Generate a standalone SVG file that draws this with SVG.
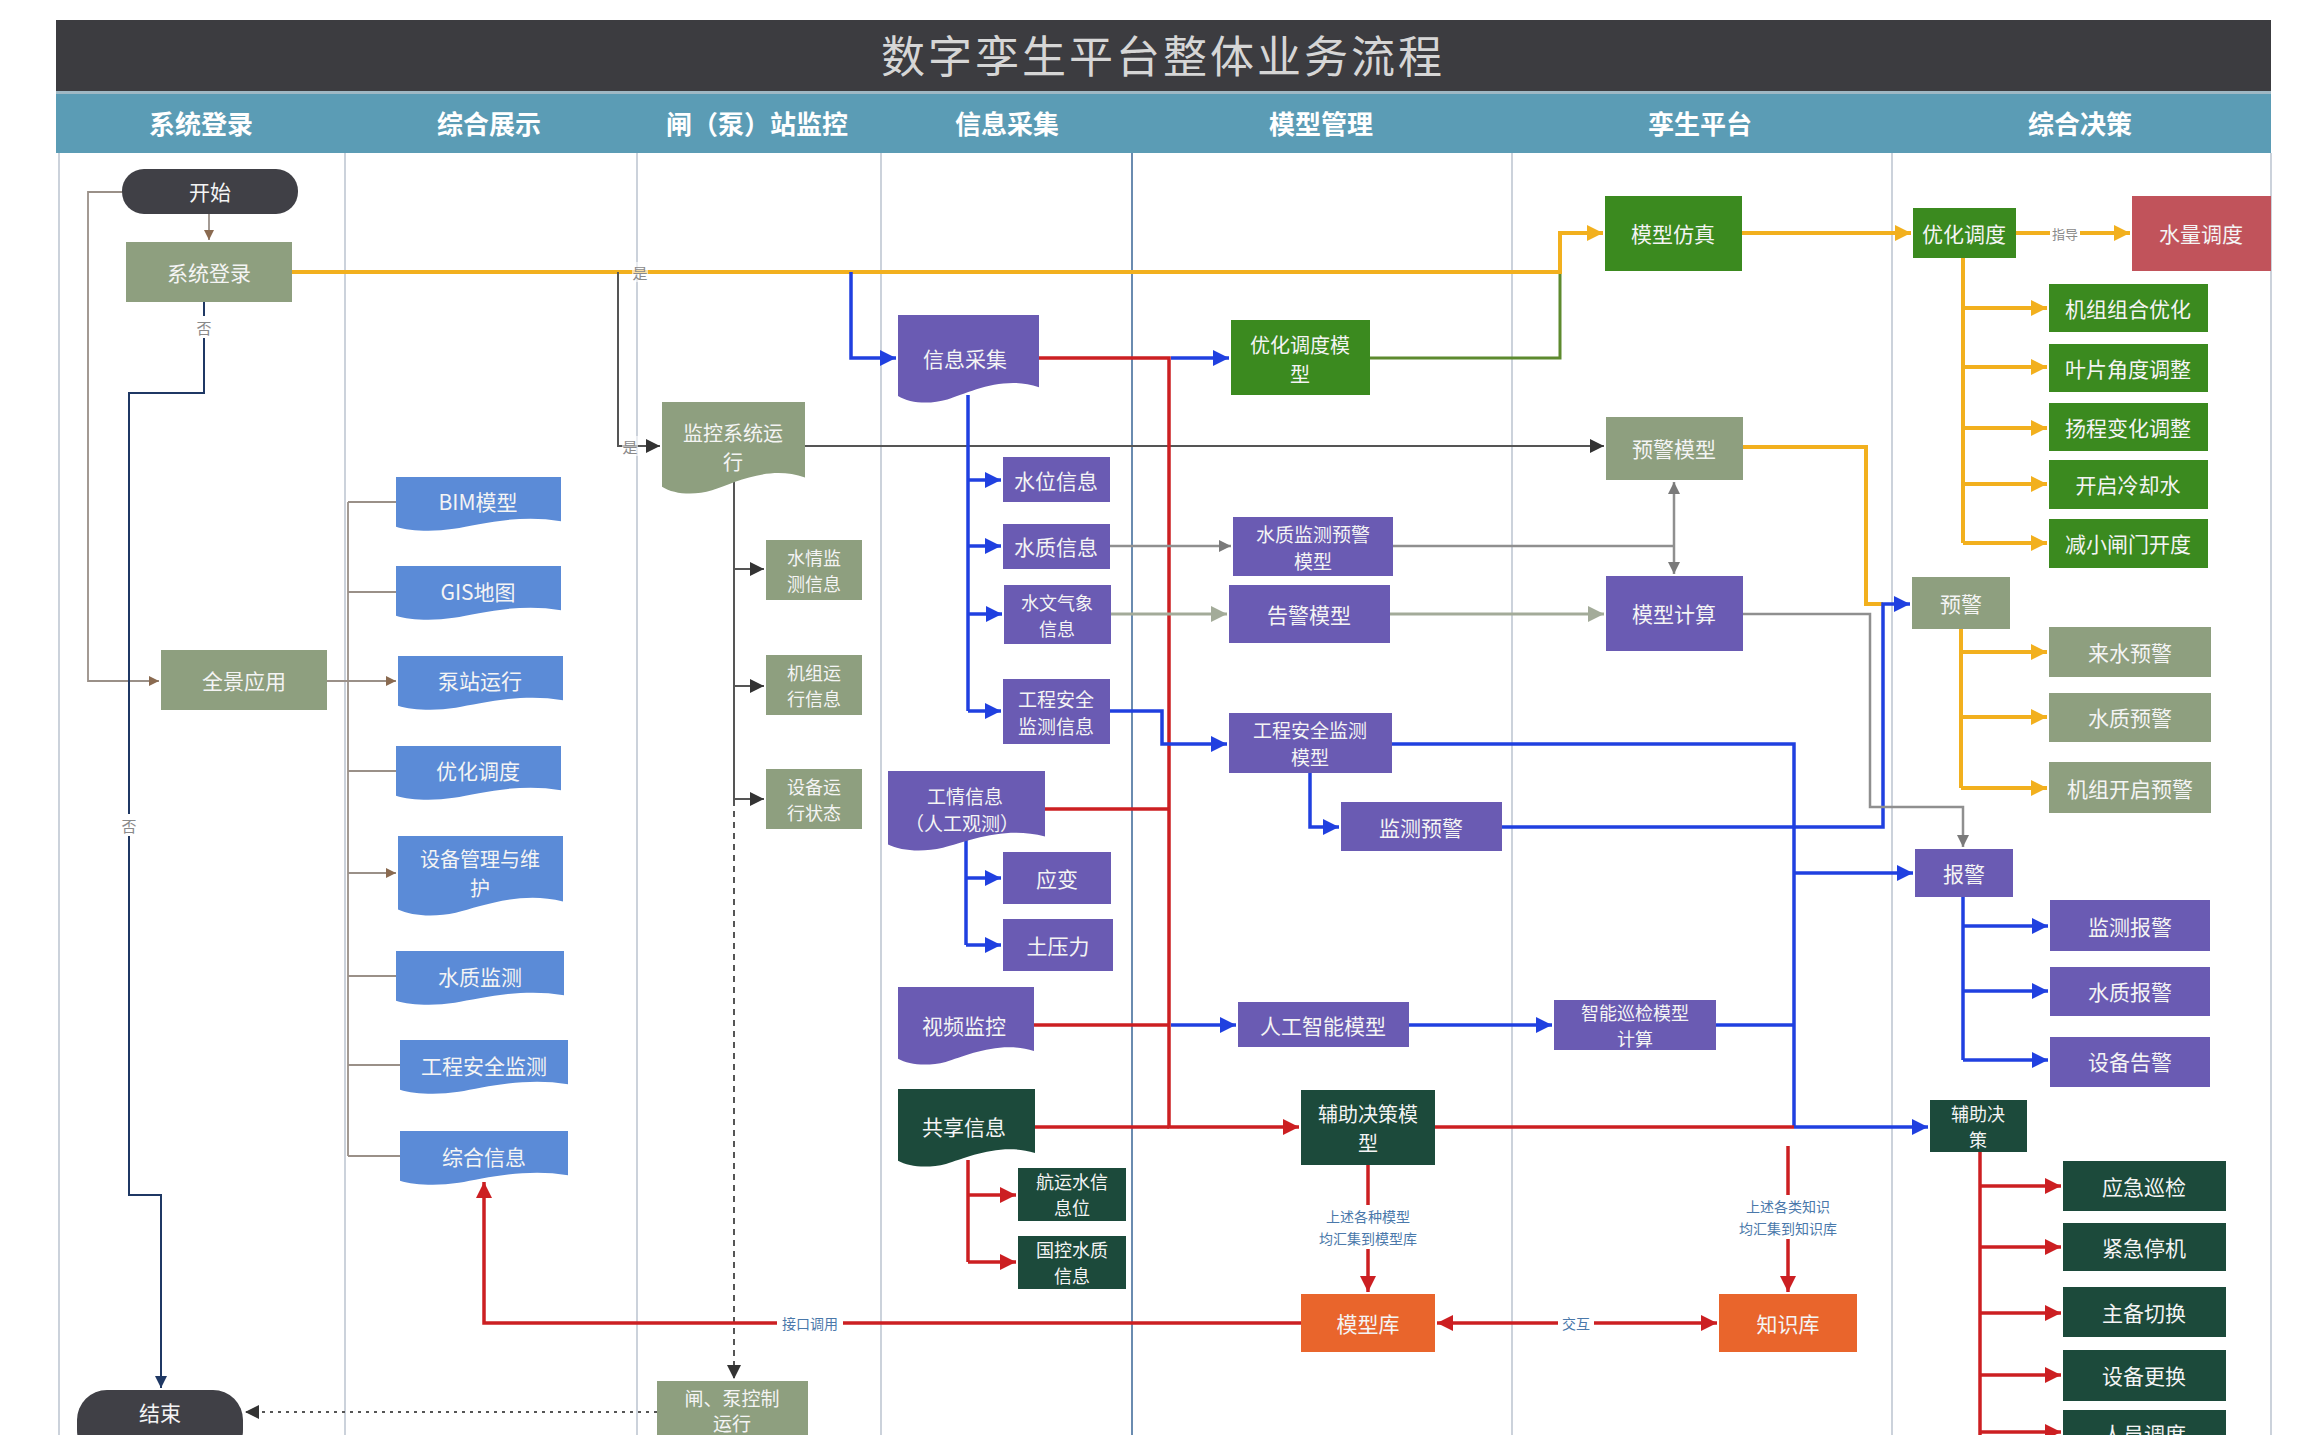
<svg xmlns="http://www.w3.org/2000/svg" xmlns:xlink="http://www.w3.org/1999/xlink" width="2302" height="1435" viewBox="0 0 2302 1435">
<style>
.t{font-family:"Noto Sans CJK SC","Noto Sans",sans-serif;font-size:21px;fill:#f4f4f4;text-anchor:middle;dominant-baseline:central}
.s20{font-size:20px}.s19{font-size:19px}.s18{font-size:18px}
.h{font-family:"Noto Sans CJK SC","Noto Sans",sans-serif;font-size:26px;font-weight:bold;fill:#ffffff;text-anchor:middle;dominant-baseline:central}
.title{font-family:"Noto Sans CJK SC","Noto Sans",sans-serif;font-size:44px;fill:#d6d6d6;text-anchor:middle;dominant-baseline:central;letter-spacing:3px}
.lb{font-family:"Noto Sans CJK SC","Noto Sans",sans-serif;font-size:14px;fill:#4a78aa;text-anchor:middle;dominant-baseline:central}
.lg{font-family:"Noto Sans CJK SC","Noto Sans",sans-serif;font-size:15px;fill:#8a8a8a;text-anchor:middle;dominant-baseline:central}
.gg{fill:#8e9f7f}.pu{fill:#6a5bb3}.bl{fill:#5b8bd7}.gr{fill:#3b8a1f}.dg{fill:#1c4a3b}.or{fill:#e9652c}.rd{fill:#c1535b}.dk{fill:#404046}
.lane{stroke:#aab5c3;stroke-width:1.2;fill:none}
.cor{stroke:#f2b01e;stroke-width:4;fill:none}
.cbl{stroke:#2040e0;stroke-width:3.5;fill:none}
.crd{stroke:#cc1f22;stroke-width:3.5;fill:none}
.cgy{stroke:#8f8f8f;stroke-width:2.5;fill:none}
.cgg{stroke:#a3ab99;stroke-width:3;fill:none}
.cbk{stroke:#555555;stroke-width:2;fill:none}
.cnv{stroke:#1f3864;stroke-width:2;fill:none}
.cth{stroke:#9a9088;stroke-width:1.8;fill:none}
.cgn{stroke:#5d8a2e;stroke-width:3;fill:none}
.lbg{fill:#ffffff}
</style>
<defs>
<symbol id="doc" viewBox="0 0 100 100" preserveAspectRatio="none"><path d="M0,0 H100 V82 C75,68 50,88 35,96 C22,102 8,100 0,92 Z"/></symbol>
<marker id="aor" markerUnits="userSpaceOnUse" markerWidth="16" markerHeight="16" viewBox="0 0 10 10" refX="10" refY="5" orient="auto"><path d="M0,0 L10,5 L0,10 z" fill="#f2b01e"/></marker>
<marker id="abl" markerUnits="userSpaceOnUse" markerWidth="16" markerHeight="16" viewBox="0 0 10 10" refX="10" refY="5" orient="auto"><path d="M0,0 L10,5 L0,10 z" fill="#2040e0"/></marker>
<marker id="ard" markerUnits="userSpaceOnUse" markerWidth="16" markerHeight="16" viewBox="0 0 10 10" refX="10" refY="5" orient="auto-start-reverse"><path d="M0,0 L10,5 L0,10 z" fill="#cc1f22"/></marker>
<marker id="agy" markerUnits="userSpaceOnUse" markerWidth="12" markerHeight="12" viewBox="0 0 10 10" refX="10" refY="5" orient="auto-start-reverse"><path d="M0,0 L10,5 L0,10 z" fill="#7a7a7a"/></marker>
<marker id="agg" markerUnits="userSpaceOnUse" markerWidth="16" markerHeight="16" viewBox="0 0 10 10" refX="10" refY="5" orient="auto"><path d="M0,0 L10,5 L0,10 z" fill="#a3ab99"/></marker>
<marker id="abk" markerUnits="userSpaceOnUse" markerWidth="14" markerHeight="14" viewBox="0 0 10 10" refX="10" refY="5" orient="auto"><path d="M0,0 L10,5 L0,10 z" fill="#333333"/></marker>
<marker id="anv" markerUnits="userSpaceOnUse" markerWidth="12" markerHeight="12" viewBox="0 0 10 10" refX="10" refY="5" orient="auto"><path d="M0,0 L10,5 L0,10 z" fill="#1f3864"/></marker>
<marker id="ath" markerUnits="userSpaceOnUse" markerWidth="10" markerHeight="10" viewBox="0 0 10 10" refX="10" refY="5" orient="auto"><path d="M0,0 L10,5 L0,10 z" fill="#8a6a50"/></marker>
</defs>
<rect x="0" y="0" width="2302" height="1435" fill="#ffffff"/>
<g id="frame">
<rect x="56" y="20" width="2215" height="71" fill="#3c3c40"/>
<text class="title" x="1163" y="54">数字孪生平台整体业务流程</text>
<rect x="56" y="91" width="2215" height="3" fill="#9fb8c4"/>
<rect x="56" y="94" width="2215" height="59" fill="#5b9cb5"/>
<text class="h" x="201" y="122">系统登录</text>
<text class="h" x="489" y="122">综合展示</text>
<text class="h" x="757" y="122">闸（泵）站监控</text>
<text class="h" x="1007" y="122">信息采集</text>
<text class="h" x="1321" y="122">模型管理</text>
<text class="h" x="1700" y="122">孪生平台</text>
<text class="h" x="2080" y="122">综合决策</text>
<path class="lane" d="M59,153V1435M345,153V1435M637,153V1435M881,153V1435M1512,153V1435M1892,153V1435M2271,153V1435"/>
<path d="M1132,153V1435" stroke="#5a7fa8" stroke-width="1.8" fill="none"/>
</g>
<g id="connectors">
<path class="cth" d="M209,214V240" marker-end="url(#ath)"/>
<path class="cth" d="M122,192H88V681H159" marker-end="url(#ath)"/>
<path class="cnv" d="M204,302V393H129V1195H161V1388" marker-end="url(#anv)"/>
<path class="cth" d="M327,681H396" marker-end="url(#ath)"/>
<path class="cth" d="M348,502V1156M348,502H396M348,592H396M348,771H396M348,976H396M348,1065H400M348,1156H400"/>
<path class="cth" d="M348,873H396" marker-end="url(#ath)"/>
<path class="cor" d="M292,272H1560V233H1603" marker-end="url(#aor)"/>
<path class="cbk" d="M618,272V446H660" marker-end="url(#abk)"/>
<path class="cbl" d="M851,272V358H896" marker-end="url(#abl)"/>
<path class="cgn" d="M1370,358H1560V274"/>
<path class="cor" d="M1742,233H1911" marker-end="url(#aor)"/>
<path class="cor" d="M2016,233H2130" marker-end="url(#aor)"/>
<path class="cor" d="M1963,258V543"/>
<path class="cor" d="M1963,308H2047" marker-end="url(#aor)"/>
<path class="cor" d="M1963,367H2047" marker-end="url(#aor)"/>
<path class="cor" d="M1963,428H2047" marker-end="url(#aor)"/>
<path class="cor" d="M1963,484H2047" marker-end="url(#aor)"/>
<path class="cor" d="M1963,543H2047" marker-end="url(#aor)"/>
<path class="cbk" d="M805,446H1604" marker-end="url(#abk)"/>
<path class="cbk" d="M734,478V800"/>
<path class="cbk" d="M734,569H764" marker-end="url(#abk)"/>
<path class="cbk" d="M734,686H764" marker-end="url(#abk)"/>
<path class="cbk" d="M734,799H764" marker-end="url(#abk)"/>
<path class="cbk" d="M734,800V1379" stroke-dasharray="6,5" stroke-width="1.5" marker-end="url(#abk)"/>
<path class="cbk" d="M657,1412H245" stroke-dasharray="3,5" stroke-width="2.5" stroke="#8a8a8a" marker-end="url(#abk)"/>
<path class="crd" d="M1039,358H1169V1127H1299" marker-end="url(#ard)"/>
<path class="cbl" d="M1171,358H1229" marker-end="url(#abl)"/>
<path class="cbl" d="M968,395V711"/>
<path class="cbl" d="M968,480H1001" marker-end="url(#abl)"/>
<path class="cbl" d="M968,546H1001" marker-end="url(#abl)"/>
<path class="cbl" d="M968,614H1002" marker-end="url(#abl)"/>
<path class="cbl" d="M968,711H1001" marker-end="url(#abl)"/>
<path class="cgy" d="M1110,546H1231" marker-end="url(#agy)"/>
<path class="cgy" d="M1393,546H1674"/>
<path class="cgg" d="M1111,614H1227" marker-end="url(#agg)"/>
<path class="cgg" d="M1390,614H1604" marker-end="url(#agg)"/>
<path class="cgy" d="M1674,482V574" stroke-width="2" marker-start="url(#agy)" marker-end="url(#agy)"/>
<path class="cbl" d="M1110,711H1162V744H1227" marker-end="url(#abl)"/>
<path class="crd" d="M1045,809H1169"/>
<path class="cbl" d="M966,836V945"/>
<path class="cbl" d="M966,878H1001" marker-end="url(#abl)"/>
<path class="cbl" d="M966,945H1001" marker-end="url(#abl)"/>
<path class="crd" d="M1034,1025H1169"/>
<path class="cbl" d="M1171,1025H1236" marker-end="url(#abl)"/>
<path class="crd" d="M1035,1127H1169"/>
<path class="crd" d="M968,1160V1262"/>
<path class="crd" d="M968,1195H1016" marker-end="url(#ard)"/>
<path class="crd" d="M968,1262H1016" marker-end="url(#ard)"/>
<path class="cbl" d="M1409,1025H1552" marker-end="url(#abl)"/>
<path class="cbl" d="M1716,1025H1794"/>
<path class="cbl" d="M1392,744H1794V1127"/>
<path class="cbl" d="M1794,873H1913" marker-end="url(#abl)"/>
<path class="cbl" d="M1310,773V827H1339" marker-end="url(#abl)"/>
<path class="cor" d="M1743,447H1866V604H1883"/>
<path class="cbl" d="M1502,827H1883V604H1910" marker-end="url(#abl)"/>
<path class="cgy" d="M1743,614H1870V807H1963V847" marker-end="url(#agy)"/>
<path class="cor" d="M1961,629V788"/>
<path class="cor" d="M1961,652H2047" marker-end="url(#aor)"/>
<path class="cor" d="M1961,717H2047" marker-end="url(#aor)"/>
<path class="cor" d="M1961,788H2047" marker-end="url(#aor)"/>
<path class="cbl" d="M1963,897V1060"/>
<path class="cbl" d="M1963,926H2048" marker-end="url(#abl)"/>
<path class="cbl" d="M1963,991H2048" marker-end="url(#abl)"/>
<path class="cbl" d="M1963,1060H2048" marker-end="url(#abl)"/>
<path class="crd" d="M1435,1127H1794"/>
<path class="cbl" d="M1794,1127H1928" marker-end="url(#abl)"/>
<path class="crd" d="M1980,1152V1435"/>
<path class="crd" d="M1980,1186H2061" marker-end="url(#ard)"/>
<path class="crd" d="M1980,1247H2061" marker-end="url(#ard)"/>
<path class="crd" d="M1980,1313H2061" marker-end="url(#ard)"/>
<path class="crd" d="M1980,1375H2061" marker-end="url(#ard)"/>
<path class="crd" d="M1980,1432H2061" marker-end="url(#ard)"/>
<path class="crd" d="M1368,1165V1292" marker-end="url(#ard)"/>
<path class="crd" d="M1788,1146V1292" marker-end="url(#ard)"/>
<path class="crd" d="M1437,1323H1717" marker-start="url(#ard)" marker-end="url(#ard)"/>
<path class="crd" d="M1301,1323H484V1182" marker-end="url(#ard)"/>
<rect class="lbg" x="196" y="316" width="16" height="22"/>
<text class="lg" x="204" y="327">否</text>
<rect class="lbg" x="121" y="814" width="16" height="22"/>
<text class="lg" x="129" y="825">否</text>
<rect class="lbg" x="632" y="262" width="16" height="20" opacity="0.6"/>
<text class="lg" x="640" y="272">是</text>
<rect class="lbg" x="622" y="436" width="16" height="20" opacity="0.6"/>
<text class="lg" x="630" y="446">是</text>
<rect class="lbg" x="2050" y="223" width="30" height="20"/>
<text class="lg" x="2065" y="233" style="font-size:13px">指导</text>
<rect class="lbg" x="1558" y="1313" width="36" height="20"/>
<text class="lb" x="1576" y="1323">交互</text>
<rect class="lbg" x="777" y="1313" width="66" height="20"/>
<text class="lb" x="810" y="1323">接口调用</text>
<rect class="lbg" x="1310" y="1205" width="116" height="44"/>
<text class="lb" x="1368" y="1216">上述各种模型</text>
<text class="lb" x="1368" y="1238">均汇集到模型库</text>
<rect class="lbg" x="1730" y="1195" width="116" height="44"/>
<text class="lb" x="1788" y="1206">上述各类知识</text>
<text class="lb" x="1788" y="1228">均汇集到知识库</text>
</g>
<g id="n-start"><rect class="dk" x="122" y="169" width="176" height="45" rx="22"/><text class="t" x="210" y="191">开始</text></g>
<g id="n-login"><rect class="gg" x="126" y="242" width="166" height="60"/><text class="t" x="209" y="272">系统登录</text></g>
<g id="n-quanjing"><rect class="gg" x="161" y="650" width="166" height="60"/><text class="t" x="244" y="680">全景应用</text></g>
<g id="n-end"><rect class="dk" x="77" y="1390" width="166" height="70" rx="30"/><text class="t" x="160" y="1412">结束</text></g>
<g id="n-bim"><use xlink:href="#doc" class="bl" x="396" y="477" width="165" height="54"/><text class="t" x="478" y="501">BIM模型</text></g>
<g id="n-gis"><use xlink:href="#doc" class="bl" x="396" y="566" width="165" height="54"/><text class="t" x="478" y="591">GIS地图</text></g>
<g id="n-bengzhan"><use xlink:href="#doc" class="bl" x="398" y="656" width="165" height="54"/><text class="t" x="480" y="680">泵站运行</text></g>
<g id="n-youhua1"><use xlink:href="#doc" class="bl" x="396" y="746" width="165" height="54"/><text class="t" x="478" y="770">优化调度</text></g>
<g id="n-shebeiguanli"><use xlink:href="#doc" class="bl" x="398" y="836" width="165" height="80"/><text class="t s20" x="480" y="858">设备管理与维</text><text class="t s20" x="480" y="887">护</text></g>
<g id="n-shuizhi1"><use xlink:href="#doc" class="bl" x="396" y="951" width="168" height="54"/><text class="t" x="480" y="976">水质监测</text></g>
<g id="n-gongcheng1"><use xlink:href="#doc" class="bl" x="400" y="1040" width="168" height="54"/><text class="t" x="484" y="1065">工程安全监测</text></g>
<g id="n-zonghe"><use xlink:href="#doc" class="bl" x="400" y="1131" width="168" height="54"/><text class="t" x="484" y="1156">综合信息</text></g>
<g id="n-jiankong"><use xlink:href="#doc" class="gg" x="662" y="402" width="143" height="92"/><text class="t s20" x="733" y="432">监控系统运</text><text class="t s20" x="733" y="461">行</text></g>
<g id="n-shuiqing"><rect class="gg" x="766" y="540" width="96" height="60"/><text class="t s18" x="814" y="557">水情监</text><text class="t s18" x="814" y="583">测信息</text></g>
<g id="n-jizuyunxing"><rect class="gg" x="766" y="655" width="96" height="60"/><text class="t s18" x="814" y="672">机组运</text><text class="t s18" x="814" y="698">行信息</text></g>
<g id="n-shebeiyunxing"><rect class="gg" x="766" y="769" width="96" height="60"/><text class="t s18" x="814" y="786">设备运</text><text class="t s18" x="814" y="812">行状态</text></g>
<g id="n-zhabeng"><rect class="gg" x="657" y="1381" width="151" height="70"/><text class="t s19" x="732" y="1397">闸、泵控制</text><text class="t s19" x="732" y="1422">运行</text></g>
<g id="n-xinxicaiji"><use xlink:href="#doc" class="pu" x="898" y="315" width="141" height="88"/><text class="t" x="965" y="358">信息采集</text></g>
<g id="n-shuiwei"><rect class="pu" x="1003" y="457" width="107" height="45"/><text class="t" x="1056" y="480">水位信息</text></g>
<g id="n-shuizhixinxi"><rect class="pu" x="1003" y="524" width="107" height="45"/><text class="t" x="1056" y="546">水质信息</text></g>
<g id="n-shuiwen"><rect class="pu" x="1004" y="585" width="107" height="59"/><text class="t s18" x="1057" y="602">水文气象</text><text class="t s18" x="1057" y="628">信息</text></g>
<g id="n-gongchengxinxi"><rect class="pu" x="1003" y="679" width="107" height="65"/><text class="t s19" x="1056" y="698">工程安全</text><text class="t s19" x="1056" y="725">监测信息</text></g>
<g id="n-gongqing"><use xlink:href="#doc" class="pu" x="888" y="771" width="157" height="80"/><text class="t s19" x="965" y="795">工情信息</text><text class="t s19" x="962" y="822">（人工观测）</text></g>
<g id="n-yingbian"><rect class="pu" x="1003" y="852" width="108" height="52"/><text class="t" x="1057" y="878">应变</text></g>
<g id="n-tuyali"><rect class="pu" x="1003" y="919" width="110" height="52"/><text class="t" x="1058" y="945">土压力</text></g>
<g id="n-shipin"><use xlink:href="#doc" class="pu" x="898" y="987" width="136" height="78"/><text class="t" x="964" y="1025">视频监控</text></g>
<g id="n-gongxiang"><use xlink:href="#doc" class="dg" x="898" y="1089" width="137" height="78"/><text class="t" x="964" y="1126">共享信息</text></g>
<g id="n-hangyun"><rect class="dg" x="1018" y="1168" width="108" height="53"/><text class="t s18" x="1072" y="1181">航运水信</text><text class="t s18" x="1072" y="1207">息位</text></g>
<g id="n-guokong"><rect class="dg" x="1018" y="1236" width="108" height="53"/><text class="t s18" x="1072" y="1249">国控水质</text><text class="t s18" x="1072" y="1275">信息</text></g>
<g id="n-youhuamoxing"><rect class="gr" x="1231" y="320" width="139" height="75"/><text class="t s20" x="1300" y="344">优化调度模</text><text class="t s20" x="1300" y="373">型</text></g>
<g id="n-shuizhiyujing"><rect class="pu" x="1233" y="517" width="160" height="59"/><text class="t s19" x="1313" y="533">水质监测预警</text><text class="t s19" x="1313" y="560">模型</text></g>
<g id="n-gaojing"><rect class="pu" x="1229" y="585" width="161" height="58"/><text class="t" x="1309" y="614">告警模型</text></g>
<g id="n-gongchengmoxing"><rect class="pu" x="1229" y="713" width="163" height="60"/><text class="t s19" x="1310" y="729">工程安全监测</text><text class="t s19" x="1310" y="756">模型</text></g>
<g id="n-jianceyujing"><rect class="pu" x="1341" y="802" width="161" height="49"/><text class="t" x="1421" y="827">监测预警</text></g>
<g id="n-rengong"><rect class="pu" x="1238" y="1002" width="171" height="45"/><text class="t" x="1323" y="1025">人工智能模型</text></g>
<g id="n-fuzhumoxing"><rect class="dg" x="1301" y="1090" width="134" height="75"/><text class="t s20" x="1368" y="1113">辅助决策模</text><text class="t s20" x="1368" y="1142">型</text></g>
<g id="n-moxingku"><rect class="or" x="1301" y="1294" width="134" height="58"/><text class="t" x="1368" y="1323">模型库</text></g>
<g id="n-fangzhen"><rect class="gr" x="1605" y="196" width="137" height="75"/><text class="t" x="1673" y="233">模型仿真</text></g>
<g id="n-yujingmoxing"><rect class="gg" x="1606" y="417" width="137" height="63"/><text class="t" x="1674" y="448">预警模型</text></g>
<g id="n-jisuan"><rect class="pu" x="1606" y="576" width="137" height="75"/><text class="t" x="1674" y="613">模型计算</text></g>
<g id="n-xunjian"><rect class="pu" x="1554" y="1000" width="162" height="50"/><text class="t s18" x="1635" y="1012">智能巡检模型</text><text class="t s18" x="1635" y="1038">计算</text></g>
<g id="n-zhishiku"><rect class="or" x="1719" y="1294" width="138" height="58"/><text class="t" x="1788" y="1323">知识库</text></g>
<g id="n-youhua2"><rect class="gr" x="1913" y="208" width="103" height="50"/><text class="t" x="1964" y="233">优化调度</text></g>
<g id="n-shuiliang"><rect class="rd" x="2132" y="196" width="139" height="75"/><text class="t" x="2201" y="233">水量调度</text></g>
<g id="n-jizuzuhe"><rect class="gr" x="2049" y="284" width="159" height="48"/><text class="t" x="2128" y="308">机组组合优化</text></g>
<g id="n-yepian"><rect class="gr" x="2049" y="344" width="159" height="48"/><text class="t" x="2128" y="368">叶片角度调整</text></g>
<g id="n-yangcheng"><rect class="gr" x="2049" y="403" width="159" height="48"/><text class="t" x="2128" y="427">扬程变化调整</text></g>
<g id="n-lengque"><rect class="gr" x="2049" y="460" width="159" height="49"/><text class="t" x="2128" y="484">开启冷却水</text></g>
<g id="n-zhamen"><rect class="gr" x="2049" y="519" width="159" height="49"/><text class="t" x="2128" y="543">减小闸门开度</text></g>
<g id="n-yujing"><rect class="gg" x="1912" y="577" width="98" height="52"/><text class="t" x="1961" y="603">预警</text></g>
<g id="n-laishui"><rect class="gg" x="2049" y="627" width="162" height="50"/><text class="t" x="2130" y="652">来水预警</text></g>
<g id="n-shuizhiyj"><rect class="gg" x="2049" y="693" width="162" height="49"/><text class="t" x="2130" y="717">水质预警</text></g>
<g id="n-jizukaiqi"><rect class="gg" x="2049" y="762" width="162" height="51"/><text class="t" x="2130" y="788">机组开启预警</text></g>
<g id="n-baojing"><rect class="pu" x="1915" y="849" width="98" height="48"/><text class="t" x="1964" y="873">报警</text></g>
<g id="n-jiancebaojing"><rect class="pu" x="2050" y="900" width="160" height="51"/><text class="t" x="2130" y="926">监测报警</text></g>
<g id="n-shuizhibaojing"><rect class="pu" x="2050" y="967" width="160" height="49"/><text class="t" x="2130" y="991">水质报警</text></g>
<g id="n-shebeigaojing"><rect class="pu" x="2050" y="1037" width="160" height="50"/><text class="t" x="2130" y="1061">设备告警</text></g>
<g id="n-fuzhu"><rect class="dg" x="1930" y="1100" width="97" height="52"/><text class="t s18" x="1978" y="1113">辅助决</text><text class="t s18" x="1978" y="1139">策</text></g>
<g id="n-yingji"><rect class="dg" x="2063" y="1161" width="163" height="50"/><text class="t" x="2144" y="1186">应急巡检</text></g>
<g id="n-jinji"><rect class="dg" x="2063" y="1223" width="163" height="48"/><text class="t" x="2144" y="1247">紧急停机</text></g>
<g id="n-zhubei"><rect class="dg" x="2063" y="1287" width="163" height="50"/><text class="t" x="2144" y="1312">主备切换</text></g>
<g id="n-genghuan"><rect class="dg" x="2063" y="1350" width="163" height="51"/><text class="t" x="2144" y="1375">设备更换</text></g>
<g id="n-renyuan"><rect class="dg" x="2063" y="1410" width="163" height="50"/><text class="t" x="2144" y="1433">人员调度</text></g>
</svg>
